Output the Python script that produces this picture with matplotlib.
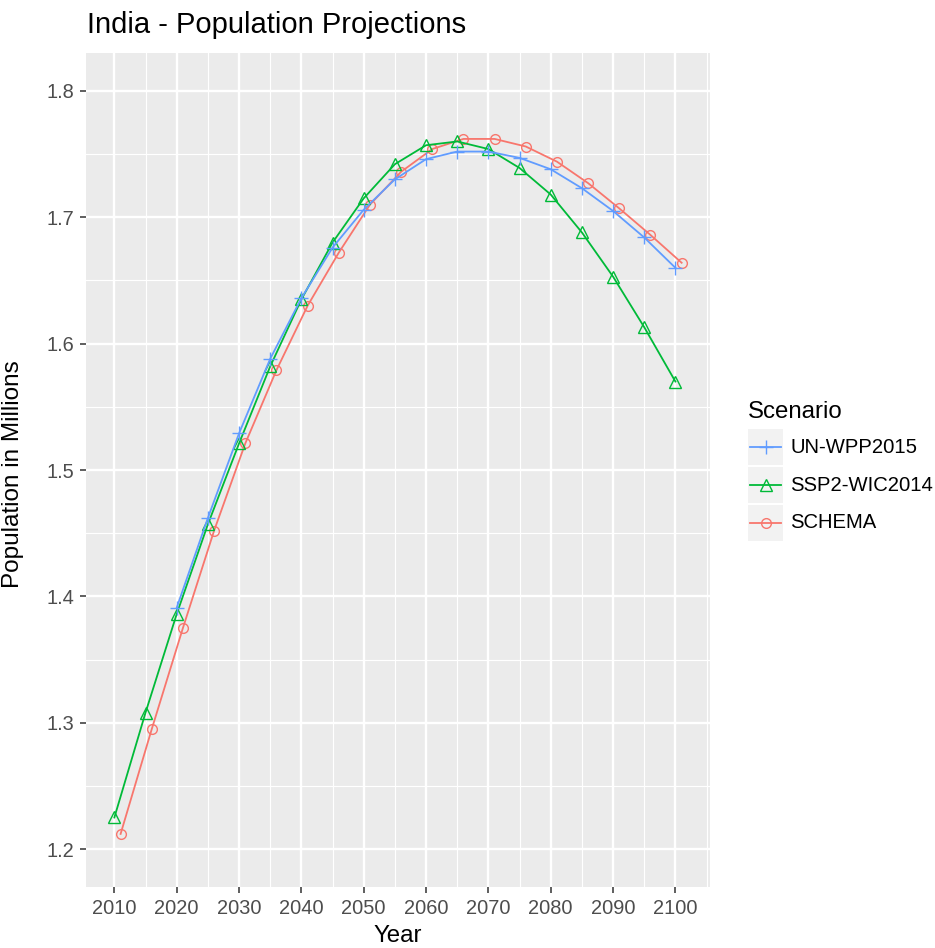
import matplotlib
matplotlib.use("Agg")
import matplotlib.pyplot as plt
from matplotlib.patches import Rectangle
from matplotlib.ticker import MultipleLocator

plt.rcParams['font.family'] = ['Liberation Sans', 'DejaVu Sans']

# data
un_years = [2020, 2025, 2030, 2035, 2040, 2045, 2050, 2055, 2060, 2065,
            2070, 2075, 2080, 2085, 2090, 2095, 2100]
un_vals = [1.391, 1.462, 1.529, 1.588, 1.636, 1.676, 1.706, 1.730, 1.746,
           1.752, 1.752, 1.747, 1.738, 1.723, 1.705, 1.684, 1.660]

ssp_years = [2010, 2015, 2020, 2025, 2030, 2035, 2040, 2045, 2050, 2055,
             2060, 2065, 2070, 2075, 2080, 2085, 2090, 2095, 2100]
ssp_vals = [1.225, 1.308, 1.386, 1.457, 1.521, 1.582, 1.635, 1.680, 1.715,
            1.742, 1.757, 1.760, 1.754, 1.739, 1.718, 1.688, 1.653, 1.613, 1.570]

schema_years = [2011, 2016, 2021, 2026, 2031, 2036, 2041, 2046, 2051, 2056,
                2061, 2066, 2071, 2076, 2081, 2086, 2091, 2096, 2101]
schema_vals = [1.212, 1.295, 1.375, 1.452, 1.521, 1.579, 1.630, 1.672, 1.710,
               1.736, 1.754, 1.762, 1.762, 1.756, 1.744, 1.727, 1.707, 1.686, 1.664]

x_ticks = list(range(2010, 2101, 10))
y_ticks = [1.2, 1.3, 1.4, 1.5, 1.6, 1.7, 1.8]

# (label, years, values, colour, marker, marker size)
series = [
    ("UN-WPP2015", un_years, un_vals, "#619CFF", "+", 10),
    ("SSP2-WIC2014", ssp_years, ssp_vals, "#00BA38", "^", 8.5),
    ("SCHEMA", schema_years, schema_vals, "#F8766D", "o", 7),
]

W, H = 935, 948
fig = plt.figure(figsize=(W / 100, H / 100), dpi=100)
fig.patch.set_facecolor("white")

# panel in pixel units
pl, pr, pt, pb = 86, 710, 53, 887
ax = fig.add_axes([pl / W, 1 - pb / H, (pr - pl) / W, (pb - pt) / H])
ax.set_facecolor("#EBEBEB")
for s in ax.spines.values():
    s.set_visible(False)

# draw in ggplot order (SCHEMA first, UN last)
for label, xs, ys, col, mk, ms in reversed(series):
    ax.plot(xs, ys, color=col, lw=1.3, marker=mk, ms=ms,
            mfc="none", mec=col, mew=1.0, zorder=3)

ax.set_xlim(2005.45, 2105.55)
ax.set_ylim(1.17, 1.83)
ax.set_xticks(x_ticks)
ax.set_yticks(y_ticks)
ax.set_yticklabels([f"{v:.1f}" for v in y_ticks])
ax.xaxis.set_minor_locator(MultipleLocator(5))
ax.yaxis.set_minor_locator(MultipleLocator(0.05))
ax.grid(which="major", color="white", lw=1.7, zorder=1)
ax.grid(which="minor", color="white", lw=0.85, zorder=1)
ax.set_axisbelow(True)
ax.tick_params(which="major", length=4.3, width=1.1, color="#333333",
               labelsize=14.4, labelcolor="#4D4D4D", pad=4)
ax.tick_params(which="minor", length=0)

fig.text(87 / W, 1 - 33 / H, "India - Population Projections",
         fontsize=21, color="black", va="baseline", ha="left")
fig.text(398 / W, 1 - 942 / H, "Year", fontsize=17.3, va="baseline",
         ha="center")
fig.text(13 / W, 1 - 474 / H, "Population in Millions", fontsize=17.5,
         rotation=90, va="center", ha="center")

# legend drawn by hand to get the ggplot-style grey key boxes
lg = fig.add_axes([0, 0, 1, 1], facecolor="none")
lg.set_xlim(0, W)
lg.set_ylim(H, 0)
lg.axis("off")
lg.text(748, 418, "Scenario", fontsize=17.3, va="baseline", ha="left")
row_h, top = 38, 428
for i, (label, xs, ys, col, mk, ms) in enumerate(series):
    y0 = top + i * row_h
    lg.add_patch(Rectangle((748, y0 + 1), 35, row_h - 2,
                           facecolor="#F2F2F2", edgecolor="none"))
    cy = y0 + row_h / 2
    lg.plot([750, 781], [cy, cy], color=col, lw=1.3)
    lg.plot([765.5], [cy], color=col, marker=mk, ms=ms, mfc="none",
            mec=col, mew=1.0, ls="none")
    lg.text(790, cy, label, fontsize=14.6, va="center", ha="left")

fig.savefig("out.png", dpi=100)
